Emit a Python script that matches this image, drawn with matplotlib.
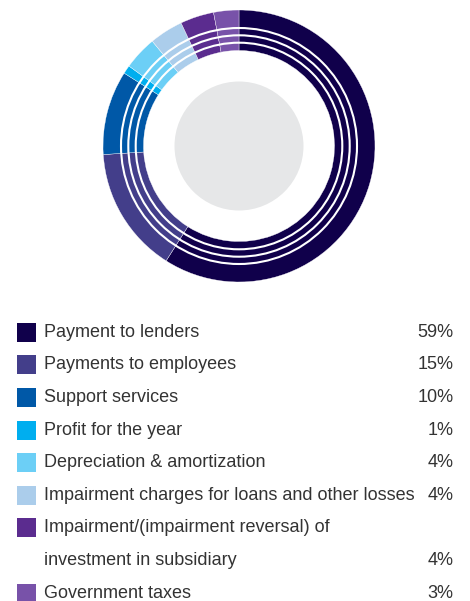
import matplotlib
matplotlib.use('Agg')
import matplotlib.pyplot as plt
from matplotlib.patches import Circle, Rectangle

# Value distribution
labels = ['Payment to lenders',
          'Payments to employees',
          'Support services',
          'Profit for the year',
          'Depreciation & amortization',
          'Impairment charges for loans and other losses',
          'Impairment/(impairment reversal) of\ninvestment in subsidiary',
          'Government taxes']
shares = [59, 15, 10, 1, 4, 4, 4, 3]
colors = ['#10004b', '#433e8a', '#0058a7', '#00aeef',
          '#6ccff6', '#abcdeb', '#5b2c8f', '#7852a9']

W, H = 470, 601
fig = plt.figure(figsize=(W / 100, H / 100), dpi=100)
fig.patch.set_facecolor('white')

# donut, axes in pixel units
cx, cy, half = 239, 146, 140
ax = fig.add_axes([(cx - half) / W, (H - cy - half) / H, 2 * half / W, 2 * half / H])
r_out, r_in = 136, 95.5
ax.pie(shares, colors=colors, radius=r_out, startangle=90, counterclock=False,
       wedgeprops=dict(width=r_out - r_in, edgecolor='white', linewidth=0.25))
for r in [118, 110.7, 103.3]:
    ax.add_patch(Circle((0, 0), r, fill=False, edgecolor='white', linewidth=1.5))
ax.add_patch(Circle((0, 0), 64.5, facecolor='#e6e7e8', edgecolor='none'))
ax.set_xlim(-half, half)
ax.set_ylim(-half, half)
ax.set_aspect('equal')
ax.axis('off')

# legend rows
font = dict(family=['Liberation Sans', 'DejaVu Sans'], fontsize=13, color='#333333')
row_y = 332.3
step = 32.6
for lab, val, col in zip(labels, shares, colors):
    fig.patches.append(Rectangle((17 / W, 1 - (row_y + 9.5) / H), 19 / W, 19 / H,
                                 transform=fig.transFigure, facecolor=col, edgecolor='none'))
    lines = lab.split('\n')
    for i, line in enumerate(lines):
        fig.text(43.5 / W, 1 - (row_y + i * step) / H, line, va='center', ha='left', **font)
    last_y = row_y + (len(lines) - 1) * step
    fig.text(453.5 / W, 1 - last_y / H, f'{val}%', va='center', ha='right', **font)
    row_y = last_y + step

fig.savefig('out.png', dpi=100)
